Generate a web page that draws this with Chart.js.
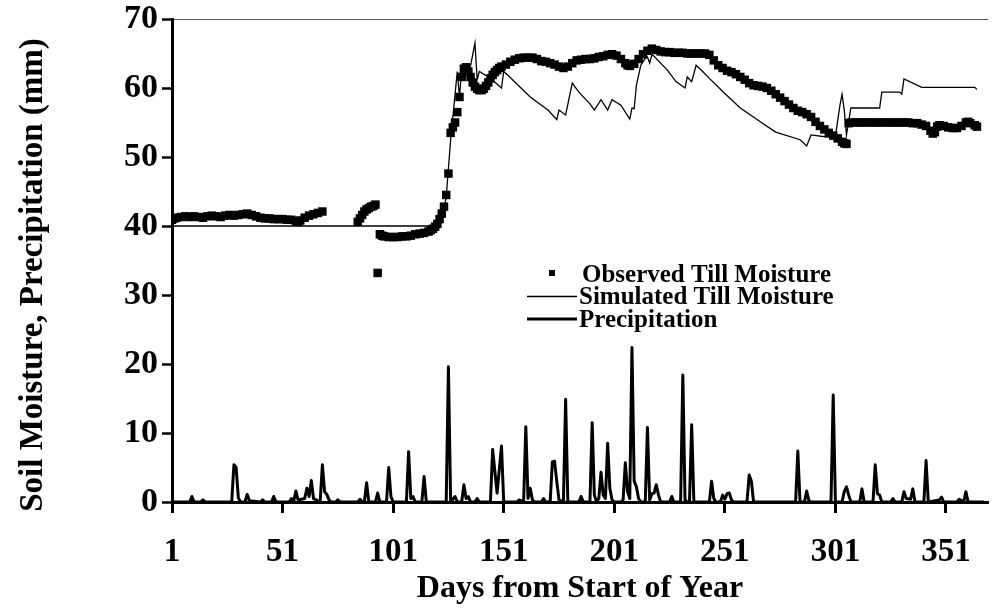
<!DOCTYPE html>
<html>
<head>
<meta charset="utf-8">
<script src="https://cdn.jsdelivr.net/npm/chart.js@4.4.1/dist/chart.umd.min.js"></script>
<style>
  body { margin: 0; background: #fff; }
  canvas { display: block; }
</style>
</head>
<body>
<canvas id="chart" width="994" height="609"></canvas>
<script>
// day ticks and moisture ticks
const xTickValues = [1, 51, 101, 151, 201, 251, 301, 351];
const yTickStep = 10;

// observed till moisture [day, mm]
const observed = [
  [1,40.9],[2,41.1],[3,41.2],[5,41.3],[7,41.4],[9,41.3],[11,41.4],[13,41.3],[15,41.2],[17,41.4],
  [19,41.5],[21,41.4],[23,41.3],[25,41.5],[27,41.6],[29,41.5],[31,41.6],[33,41.7],[35,41.8],[37,41.6],
  [39,41.4],[41,41.2],[43,41.1],[45,41.1],[47,41.0],[49,41.0],[51,41.0],[53,40.9],[55,40.9],[57,40.7],
  [58,40.6],[59,40.8],[61,41.2],[63,41.5],[65,41.7],[67,41.9],[69,42.1],
  [85,40.6],[86,41.1],[87,41.6],[88,42.1],[89,42.4],[90,42.6],[91,42.8],[92,42.9],[93,43.1],[94,33.2],
  [95,38.8],[96,38.6],[97,38.5],[99,38.4],[101,38.4],[103,38.4],[105,38.5],[107,38.5],[109,38.6],[111,38.8],
  [113,38.9],[115,39.0],[117,39.2],[118,39.4],[119,39.6],[120,39.9],[121,40.3],[122,41.0],[123,41.8],[124,42.8],
  [125,44.5],[126,47.6],[127,53.5],[128,54.3],[129,55.0],[130,56.5],[131,58.7],[132,61.6],[133,62.8],[134,63.0],
  [135,62.4],[136,61.6],[137,60.8],[138,60.2],[139,59.9],[140,59.7],[141,59.7],[142,59.9],[143,60.3],[144,60.8],
  [145,61.4],[146,61.9],[147,62.3],[148,62.6],[149,62.9],[150,63.1],[152,63.4],[154,63.8],[156,64.1],[158,64.3],
  [160,64.4],[162,64.4],[164,64.4],[166,64.2],[168,63.9],[170,63.8],[172,63.6],[174,63.4],[176,63.1],[178,62.9],
  [180,63.1],[182,63.6],[184,64.0],[186,64.1],[188,64.2],[190,64.2],[192,64.3],[194,64.5],[196,64.6],[198,64.8],
  [200,64.9],[202,64.7],[204,64.2],[206,63.6],[207,63.3],[208,63.2],[210,63.5],[212,64.2],[214,64.9],[216,65.4],
  [218,65.7],[220,65.5],[222,65.3],[224,65.2],[226,65.2],[228,65.1],[230,65.1],[232,65.1],[234,65.0],[236,65.0],
  [238,65.0],[240,65.0],[242,65.0],[244,64.8],[246,64.0],[248,63.3],[250,62.9],[252,62.5],[254,62.3],[256,62.0],
  [258,61.6],[260,61.2],[262,60.7],[264,60.4],[266,60.3],[268,60.2],[270,60.0],[272,59.6],[274,59.1],[276,58.6],
  [278,58.1],[280,57.6],[282,57.1],[284,56.7],[286,56.5],[288,56.2],[290,55.8],[292,55.1],[294,54.5],[296,54.0],
  [298,53.5],[300,53.1],[302,52.7],[304,52.2],[305,52.0],[306,51.9],
  [307,54.9],[308,55.0],[310,55.0],[312,55.0],[314,55.0],[316,55.0],[318,55.0],[320,55.0],[322,55.0],[324,55.0],
  [326,55.0],[328,55.0],[330,55.0],[332,55.0],[334,55.0],[336,54.9],[338,54.9],[340,54.7],[342,54.5],[344,53.8],
  [345,53.4],[346,53.6],[347,54.4],[348,54.6],[350,54.5],[352,54.3],[354,54.2],[356,54.2],[358,54.5],[360,55.0],
  [361,55.1],[362,54.9],[364,54.6],[365,54.4]
];

// simulated till moisture, line vertices [day, mm]
const simulated = [
  [1,40],[122,40],[123,40.9],[125,44.2],[127,52.5],[130,62.4],[131,58.7],[132,62.6],[134,62.8],[136,63.2],
  [138,66.5],[139,61.2],[140,62.4],[145,61.4],[150,60.0],[151,62.4],[153,61.8],[163,58.7],[171,56.8],[175,55.4],
  [176,56.8],[179,56.1],[182,60.7],[185,59.4],[190,57.7],[192,56.8],[195,58.3],[198,56.8],[200,58.3],[204,57.5],
  [208,55.5],[209,57.1],[210,57.0],[211,60.4],[213,63.3],[215,64.3],[216,64.5],[217,63.6],[218,64.8],[219,64.6],
  [225,62.6],[229,60.9],[233,60.0],[234,61.6],[236,60.9],[238,63.3],[241,62.4],[244,61.4],[251,59.2],[258,57.1],
  [268,54.9],[274,53.6],[285,52.5],[288,51.6],[290,53.2],[297,52.9],[301,53.0],[303,57.4],[304,59.1],[305,56.8],
  [306,53.2],[308,57.1],[321,57.1],[322,59.4],[330,59.4],[331,59.1],[332,61.3],[340,60.1],[364,60.1],[365,59.8]
];

// daily precipitation, vertices [day, mm]
const precipitation = [
  [1,0],[9,0],[10,0.8],[11,0],[14,0],[15,0.3],[16,0],[28,0],[29,5.4],[30,5.0],[31,0.6],[32,0],[34,0],[35,1.1],
  [36,0.2],[41,0],[42,0.3],[43,0],[46,0],[47,0.8],[48,0],[54,0],[55,0.5],[56,0],[57,1.6],[58,0.3],[61,0.5],
  [62,2.0],[63,0.8],[64,3.1],[65,0.5],[68,0],[69,5.4],[70,1.5],[71,1.1],[72,0.3],[73,0],[75,0],[76,0.3],[77,0],
  [85,0],[86,0.4],[87,0],[88,0],[89,2.8],[90,0],[93,0],[94,1.3],[95,0],[98,0],[99,5.0],[100,0.8],[101,0],
  [107,0],[108,7.3],[109,0.5],[110,0.8],[111,0],[114,0],[115,3.7],[116,0],[125,0],[126,19.6],[127,0],[129,0.8],
  [130,0],[132,0],[133,2.5],[134,0.5],[135,0.8],[136,0],[138,0],[139,0.5],[140,0],[145,0],[146,7.6],[148,1.3],
  [150,8.1],[151,0],[157,0],[158,0.3],[160,0],[161,10.9],[162,0.5],[163,2.0],[164,0.3],[165,0],[168,0],[169,0.5],
  [170,0],[172,0],[173,5.8],[174,5.9],[175,3.0],[176,0.3],[178,0],[179,14.9],[180,0],[185,0],[186,0.8],[187,0],
  [190,0],[191,11.5],[192,1.0],[193,0],[194,0.5],[195,4.3],[196,1.0],[197,0.5],[198,8.5],[199,2.0],[200,0.3],
  [201,0],[204,0],[205,0.3],[206,5.7],[207,1.5],[208,0.5],[209,22.4],[210,3.0],[211,2.2],[212,0.5],[213,0],
  [215,0],[216,10.8],[217,0.3],[218,1.2],[219,1.3],[220,2.5],[221,1.0],[222,0],[226,0],[227,0.8],[228,0],
  [231,0],[232,18.4],[233,0.3],[234,0],[235,0],[236,11.2],[237,0],[244,0],[245,3.0],[246,0.5],[247,0],[249,0],
  [250,1.0],[251,0.4],[252,1.2],[253,1.3],[254,0.3],[255,0],[261,0],[262,3.9],[263,3.0],[264,0],[283,0],
  [284,7.4],[285,0],[287,0],[288,1.6],[289,0.2],[290,0],[299,0],[300,15.5],[301,0],[304,0],[305,1.5],[306,2.2],
  [307,1.0],[308,0],[312,0],[313,1.9],[314,0],[318,0],[319,5.4],[320,1.2],[321,1.0],[322,0],[326,0],[327,0.5],
  [328,0],[331,0],[332,1.5],[333,0.5],[335,0.4],[336,1.9],[337,0],[341,0],[342,6.0],[343,0],[348,0.3],[349,0.7],
  [350,0],[356,0],[357,0.4],[359,0],[360,1.5],[361,0],[368,0]
];

const seriesNames = ['Observed Till Moisture', 'Simulated Till Moisture', 'Precipitation'];
const yTitle = 'Soil Moisture, Precipitation (mm)';

const toPoints = arr => arr.map(([x, y]) => ({ x, y }));

Chart.defaults.font.family = "'Liberation Serif', 'Times New Roman', serif";
Chart.defaults.font.weight = 'bold';
Chart.defaults.color = '#000';

// legend inside the plot and the y title, drawn like the original
const insideLegend = {
  id: 'insideLegend',
  afterDraw(chart) {
    const ctx = chart.ctx;
    ctx.save();
    ctx.fillStyle = '#000';
    ctx.strokeStyle = '#000';
    ctx.font = "bold 25px 'Liberation Serif', serif";
    ctx.textBaseline = 'alphabetic';
    ctx.textAlign = 'left';

    ctx.fillRect(549, 270, 6, 6);
    ctx.fillText(seriesNames[0], 582, 282);

    ctx.lineWidth = 1.3;
    ctx.beginPath();
    ctx.moveTo(527, 296.5);
    ctx.lineTo(577, 296.5);
    ctx.stroke();
    ctx.fillText(seriesNames[1], 579, 304);

    ctx.lineWidth = 3;
    ctx.beginPath();
    ctx.moveTo(527, 319);
    ctx.lineTo(577, 319);
    ctx.stroke();
    ctx.fillText(seriesNames[2], 579, 327);

    // y axis title
    ctx.translate(33, 275);
    ctx.rotate(-Math.PI / 2);
    ctx.font = "bold 33px 'Liberation Serif', serif";
    ctx.textAlign = 'center';
    ctx.textBaseline = 'middle';
    ctx.fillText(yTitle, 0, 0);
    ctx.restore();
  }
};

new Chart(document.getElementById('chart'), {
  type: 'scatter',
  data: {
    datasets: [
      {
        label: seriesNames[0],
        data: toPoints(observed),
        showLine: false,
        pointStyle: 'rect',
        pointRadius: 6,
        pointBackgroundColor: '#000',
        pointBorderWidth: 0,
        order: 0
      },
      {
        label: seriesNames[1],
        data: toPoints(simulated),
        showLine: true,
        borderColor: '#000',
        borderWidth: 1.3,
        pointRadius: 0,
        order: 1
      },
      {
        label: seriesNames[2],
        data: toPoints(precipitation),
        showLine: true,
        borderColor: '#000',
        borderWidth: 3,
        borderJoinStyle: 'round',
        borderCapStyle: 'round',
        pointRadius: 0,
        order: 2
      }
    ]
  },
  options: {
    responsive: false,
    animation: false,
    events: [],
    layout: { padding: { top: 19, right: 2, left: 0, bottom: 0 } },
    plugins: {
      legend: { display: false },
      tooltip: { enabled: false }
    },
    scales: {
      x: {
        type: 'linear',
        min: 1,
        max: 370,
        afterBuildTicks: scale => { scale.ticks = xTickValues.map(v => ({ value: v })); },
        afterFit: scale => {
          scale.height = 107;
          scale.paddingLeft = 0;
          scale.paddingRight = 0;
        },
        border: { color: '#000', width: 3 },
        grid: {
          drawOnChartArea: false,
          color: '#000',
          tickColor: '#000',
          tickLength: 11,
          tickWidth: 3
        },
        ticks: {
          padding: 20,
          maxRotation: 0,
          autoSkip: false,
          font: { size: 33, weight: 'bold' }
        },
        title: {
          display: true,
          text: 'Days from Start of Year',
          font: { size: 32, weight: 'bold' },
          padding: { top: 0, bottom: 1 }
        }
      },
      y: {
        min: 0,
        max: 70,
        afterFit: scale => {
          scale.width = 172;
          scale.paddingTop = 0;
          scale.paddingBottom = 0;
        },
        border: { color: '#000', width: 3 },
        grid: {
          color: c => (c.tick && c.tick.value === 70 ? '#555' : 'rgba(0,0,0,0)'),
          lineWidth: 1,
          tickColor: '#000',
          tickLength: 10,
          tickWidth: 2.5
        },
        ticks: {
          stepSize: yTickStep,
          padding: 4,
          font: { size: 34, weight: 'bold' }
        }
      }
    }
  },
  plugins: [insideLegend]
});
</script>
</body>
</html>
